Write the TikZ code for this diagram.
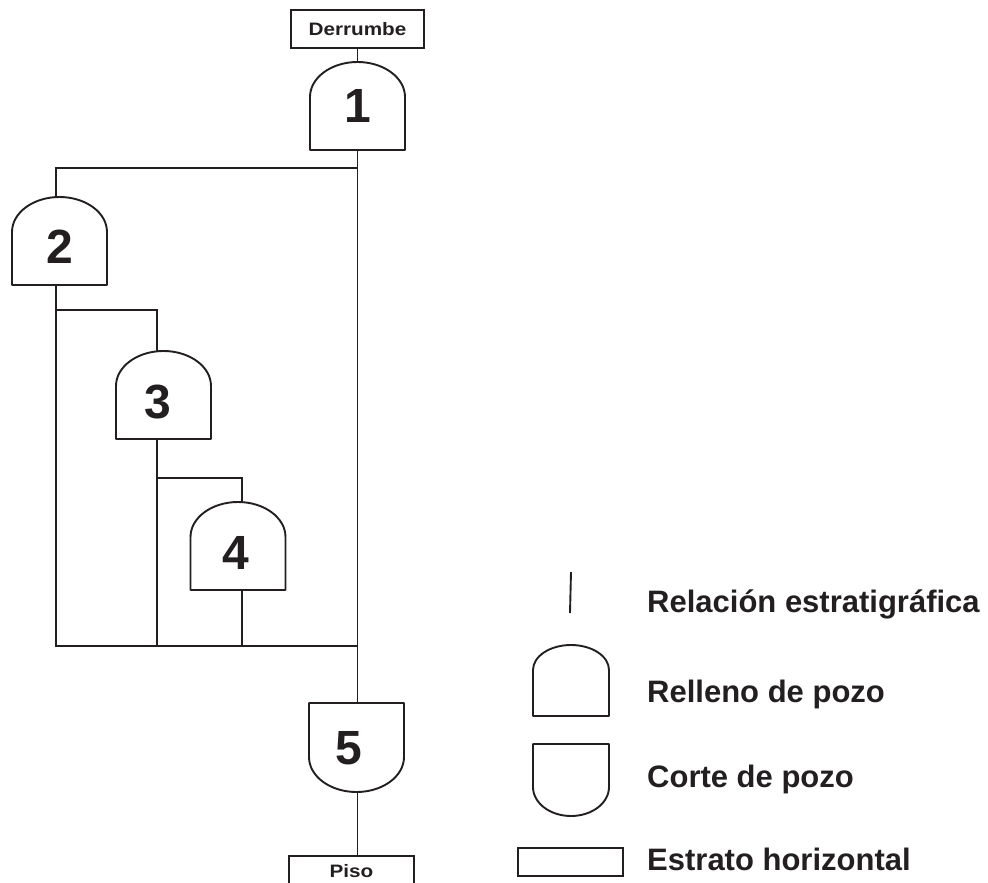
\documentclass[tikz,border=0pt]{standalone}
\usepackage{fontspec}
\setmainfont{Liberation Sans}
\newfontfamily\labfont[FakeStretch=1.15]{Liberation Sans Bold}
\definecolor{ink}{RGB}{35,31,32}
\tikzset{
  gateline/.style={line width=1.9pt, draw=ink, line join=round},
  conn/.style={line width=1.9pt, draw=ink},
  stratum/.style={draw=ink, line width=1.9pt, rectangle, inner sep=0pt, text=ink},
  num/.style={font=\fontsize{48}{48}\selectfont\bfseries, text=ink, inner sep=0pt},
  boxlabel/.style={font=\labfont\fontsize{18}{18}\selectfont},
  legtext/.style={font=\fontsize{31}{31}\selectfont\bfseries, text=ink, anchor=base west, inner sep=0pt},
  pics/relleno/.style n args={4}{code={
    \draw[gateline] (#1-#2,0) -- (#1-#2,#3) arc[start angle=180,end angle=0,x radius=#2,y radius=#4] -- (#1+#2,0) -- cycle;
    \coordinate (-top) at (0,#3+#4);
    \coordinate (-bot) at (0,0);
  }},
  pics/corte/.style n args={4}{code={
    \draw[gateline] (#1-#2,0) -- (#1-#2,-#3) arc[start angle=180,end angle=360,x radius=#2,y radius=#4] -- (#1+#2,0) -- cycle;
    \coordinate (-top) at (0,0);
    \coordinate (-bot) at (0,-#3-#4);
  }},
}
\begin{document}
\begin{tikzpicture}[x=1pt,y=1pt]
\useasboundingbox (0,0) rectangle (988,-883);

% strata boxes
\node[stratum, boxlabel, minimum width=133pt, minimum height=38pt] (der) at (357.5,-29) {Derrumbe};
\node[stratum, boxlabel, minimum width=125pt, minimum height=40pt, anchor=north, text depth=9pt] (piso) at (351.5,-855) {Piso};

% gates
\pic (g1) at (357.5,-150) {relleno={0}{47.5}{53}{35}};
\node[num] (n1) at (358,-106) {1};
\pic (g2) at (56,-285) {relleno={3.5}{47.5}{53}{35}};
\node[num] (n2) at (60,-247) {2};
\pic (g3) at (157,-439) {relleno={6.5}{47.5}{53}{35}};
\node[num] (n3) at (158,-402) {3};
\pic (g4) at (242,-590) {relleno={-4}{47.5}{53}{35}};
\node[num] (n4) at (236,-553) {4};
\pic (g5) at (357.5,-703) {corte={-1}{47.5}{54}{35}};
\node[num] (n5) at (349,-748) {5};

% connectors
\coordinate (j1) at (357.5,-168);
\coordinate (j2) at (56,-310);
\coordinate (j3) at (157,-478);
\coordinate (b2) at (56,-646);
\coordinate (b5) at (357.5,-646);
\draw[conn] (der.south) -- (g1-top);
\draw[conn] (g1-bot) -- (g5-top);
\draw[conn] (j1) -| (g2-top);
\draw[conn] (j2) -| (g3-top);
\draw[conn] (j3) -| (g4-top);
\draw[conn] (g2-bot) -- (b2) -- (b5);
\draw[conn] (g3-bot) -- (g3-bot |- b5);
\draw[conn] (g4-bot) -- (g4-bot |- b5);
\draw[conn] (g5-bot) -- (g5-bot |- piso.north);

% legend
\coordinate (la) at (571,-572);
\coordinate (lb) at (570,-613);
\draw[conn] (la) -- (lb);
\node[legtext] (t1) at (647,-612) {Relación estratigráfica};
\pic (lr) at (571,-716) {relleno={0}{38}{46}{25}};
\node[legtext] (t2) at (647,-702) {Relleno de pozo};
\pic (lc) at (571,-744) {corte={0}{38}{43}{29}};
\node[legtext] (t3) at (647,-787) {Corte de pozo};
\node[stratum, minimum width=105pt, minimum height=28pt] (ls) at (570.5,-862) {};
\node[legtext] (t4) at (647,-870) {Estrato horizontal};
\end{tikzpicture}
\end{document}
